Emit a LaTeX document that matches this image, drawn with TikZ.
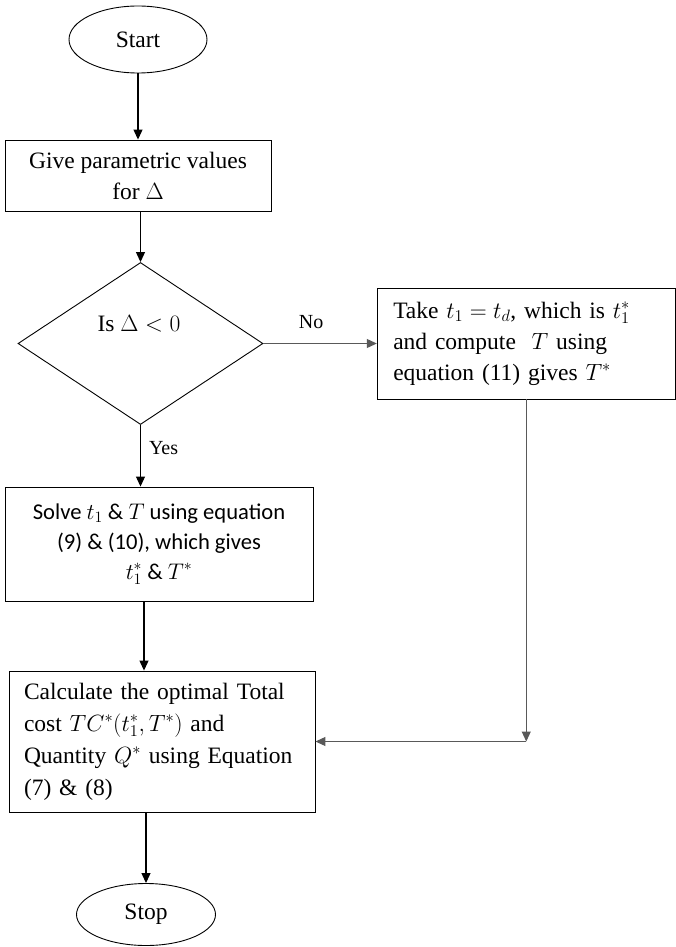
\documentclass[tikz,border=0pt]{standalone}
\usepackage{fix-cm}
\usepackage{fontspec}
\setmainfont{Liberation Serif}
\newfontfamily\solvefont{Carlito}
\usetikzlibrary{shapes.geometric,arrows.meta,positioning}

\tikzset{
  term/.style={draw,ellipse,line width=0.9pt,inner sep=0pt},
  procbox/.style={draw,rectangle,line width=0.9pt,inner sep=0pt,align=center},
  leftbox/.style={draw,rectangle,line width=0.9pt,inner ysep=0pt,align=left},
  decbox/.style={draw,diamond,line width=0.9pt,inner sep=0pt},
  flow/.style={line width=1.1pt,-{Triangle[width=9pt,length=10pt]}},
  flowgray/.style={flow,draw=black!65},
  flowlabel/.style={font=\fontsize{20}{24}\selectfont,inner sep=0pt}
}

\begin{document}
\begin{tikzpicture}[x=1pt,y=1pt,yscale=-1,font=\fontsize{23.5}{31}\selectfont]
\useasboundingbox (0,0) rectangle (676,947);

%Shape: Ellipse
\node [term,minimum width=138pt,minimum height=67pt] (start) at (138,39.5) {Start};
%Shape: Rectangle
\node [procbox,minimum width=266pt,minimum height=71pt] (give) at (138,175.5) {Give parametric values\\for $\Delta$};
%Shape: Diamond
\node [decbox,minimum width=245pt,minimum height=162pt] (dec) at (140.5,343.5) {};
% Text Node
\node [inner sep=0pt] (decq) at (139,324) {Is $\Delta < 0$};
%Shape: Rectangle
\node [leftbox,text width=266pt,inner xsep=16pt,minimum height=111pt] (take) at (526.25,343.5)
  {Take $t_1 = t_d$, which is $t_1^{*}$\\and compute \ $T$ using\\equation (11) gives $T^{*}$};
%Shape: Rectangle
\node [procbox,minimum width=308pt,minimum height=114pt,font=\solvefont\fontsize{22.6}{30}\selectfont] (solve) at (159,544)
  {Solve $t_1$ \& $T$ using equation\\(9) \& (10), which gives\\$t_1^{*}$ \& $T^{*}$};
%Shape: Rectangle
\node [leftbox,text width=276pt,inner xsep=15pt,minimum height=141pt,font=\fontsize{23.5}{32}\selectfont] (calc) at (162,741.5)
  {Calculate the optimal Total\\cost $TC^{*}(t_1^{*},T^{*})$ and\\Quantity $Q^{*}$ using Equation\\(7) \& (8)};
%Shape: Ellipse
\node [term,minimum width=139pt,minimum height=62pt] (stop) at (146,914.5) {Stop};

%Straight Lines
\draw [flow] (start) -- (give);
\draw [flow] (dec.north |- give.south) -- (dec.north);
\draw [flowgray] (dec.east) -- (take.west) node [flowlabel,pos=0.42,above=14pt] (no) {No};
\draw [flow] (dec.south) -- (dec.south |- solve.north) node [flowlabel,pos=0.38,right=8pt] (yes) {Yes};
\draw [flow] ([xshift=-15pt]solve.south) -- ([xshift=-15pt]solve.south |- calc.north);
\coordinate (join) at (take.south |- calc.east);
\draw [flowgray] (take.south) -- (join);
\draw [flowgray] (join) -- (calc.east);
\draw [flow] (stop.north |- calc.south) -- (stop.north);

\end{tikzpicture}
\end{document}
